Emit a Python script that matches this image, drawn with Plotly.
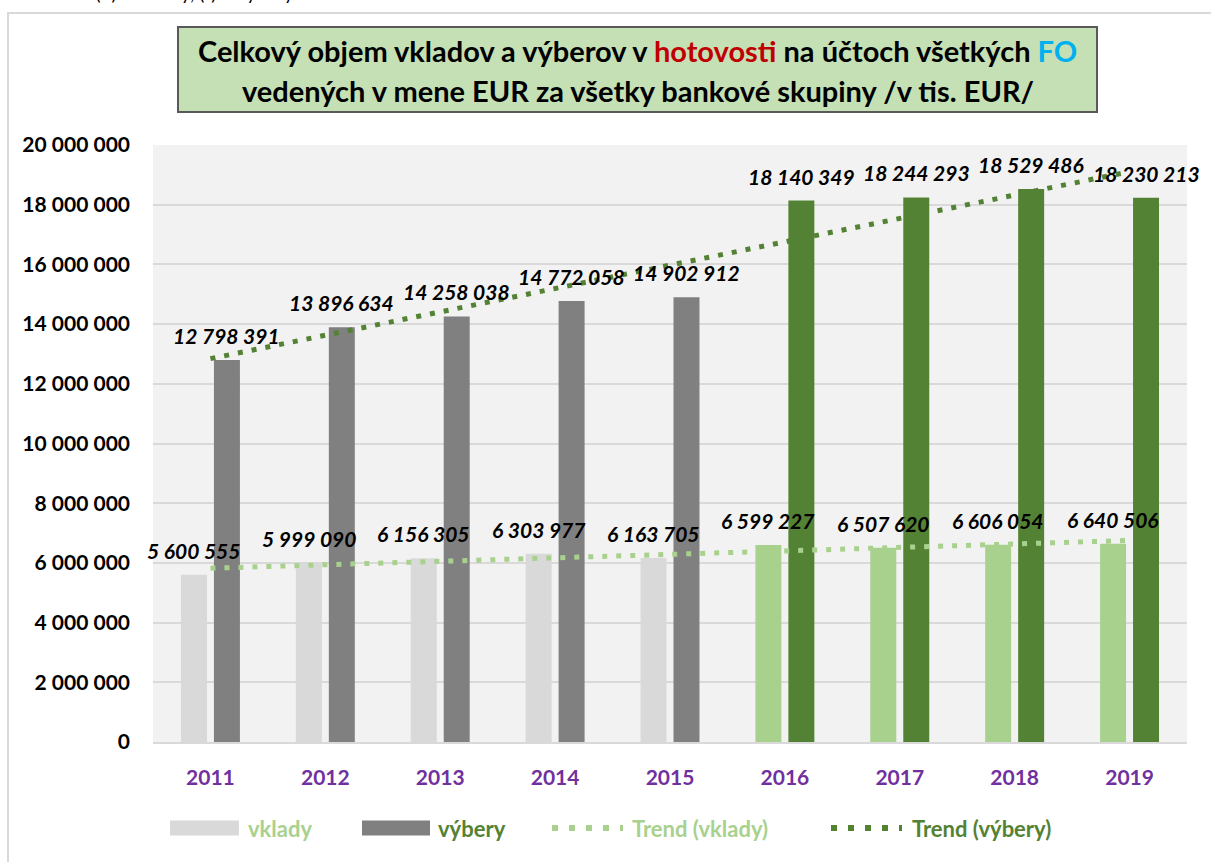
import numpy as np
import plotly.graph_objects as go

years = ["2011", "2012", "2013", "2014", "2015", "2016", "2017", "2018", "2019"]
vklady = [5600555, 5999090, 6156305, 6303977, 6163705, 6599227, 6507620, 6606054, 6640506]
vybery = [12798391, 13896634, 14258038, 14772058, 14902912, 18140349, 18244293, 18529486, 18230213]
vklady_colors = ["#d9d9d9"] * 5 + ["#a9d18e"] * 4
vybery_colors = ["#808080"] * 5 + ["#548235"] * 4
y_ticks = list(range(0, 20000001, 2000000))

FONT = "Lato"
W, H = 1211, 862
# plot area in page pixels
L, R, T, B = 153, 1187, 145, 742


def xp(px):
    return (px - L) / (R - L)


def yp(py):
    return (B - py) / (B - T)


def fmt(v):
    return f"{v:,}".replace(",", " ")


# linear trend lines (as Excel's linear trendline)
xi = np.arange(len(years))
tv = np.polyval(np.polyfit(xi, vklady, 1), xi)
tw = np.polyval(np.polyfit(xi, vybery, 1), xi)

fig = go.Figure()
fig.add_trace(go.Bar(x=years, y=vklady, name="vklady", marker=dict(color=vklady_colors, line=dict(width=0)),
                     offsetgroup="a"))
fig.add_trace(go.Bar(x=years, y=vybery, name="výbery", marker=dict(color=vybery_colors, line=dict(width=0)),
                     offsetgroup="b"))
fig.add_trace(go.Scatter(x=[years[0], years[-1]], y=[tv[0], tv[-1]], mode="lines", name="Trend (vklady)",
                         line=dict(color="#a9d18e", width=5, dash="5px,9px")))
fig.add_trace(go.Scatter(x=[years[0], years[-1]], y=[tw[0], tw[-1]], mode="lines", name="Trend (výbery)",
                         line=dict(color="#548235", width=5, dash="5px,9px")))

annotations = []
label_font = dict(family=FONT, size=21, color="black")
for i, v in enumerate(vklady):
    annotations.append(dict(x=i, y=v, xref="x", yref="y", text=f"<b><i>{fmt(v)}</i></b>", showarrow=False,
                            xshift=-16.5, yshift=10, yanchor="bottom", font=label_font))
for i, v in enumerate(vybery):
    annotations.append(dict(x=i, y=v, xref="x", yref="y", text=f"<b><i>{fmt(v)}</i></b>", showarrow=False,
                            xshift=16.5, yshift=10, yanchor="bottom", font=label_font))

# title
title_font = dict(family=FONT, size=29, color="black")
annotations.append(dict(xref="paper", yref="paper", x=xp(637.5), y=yp(50), xanchor="center", yanchor="middle",
                        showarrow=False, font=title_font,
                        text="<b>Celkový objem vkladov a výberov v <span style='color:#c00000'>hotovosti</span> "
                             "na účtoch všetkých <span style='color:#00b0f0'>FO</span></b>"))
annotations.append(dict(xref="paper", yref="paper", x=xp(637.5), y=yp(90), xanchor="center", yanchor="middle",
                        showarrow=False, font=title_font,
                        text="<b>vedených v mene EUR za všetky bankové skupiny /v tis. EUR/</b>"))
# note at top (clipped by the page edge, as in the source)
annotations.append(dict(xref="paper", yref="paper", x=xp(-1), y=yp(-7), xanchor="left", yanchor="middle",
                        showarrow=False, font=dict(family=FONT, size=19, color="black"),
                        text="Poznámka: (+) = vklady, (-) = výbery"))

# custom legend
leg_font = dict(family=FONT, size=22)
legend_items = [
    ("box", "#d9d9d9", 170, 239, "vklady", "#a9d18e", 246),
    ("box", "#808080", 362, 430, "výbery", "#548235", 436),
    ("dots", "#a9d18e", 552, 623, "Trend (vklady)", "#a9d18e", 630),
    ("dots", "#548235", 831, 902, "Trend (výbery)", "#548235", 910),
]
shapes = []
ly = 828
for kind, col, x0, x1, txt, tcol, tx in legend_items:
    if kind == "box":
        shapes.append(dict(type="rect", xref="paper", yref="paper", x0=xp(x0), x1=xp(x1), y0=yp(ly + 7.5),
                           y1=yp(ly - 7.5), fillcolor=col, line=dict(width=0)))
    else:
        shapes.append(dict(type="line", xref="paper", yref="paper", x0=xp(x0), x1=xp(x1), y0=yp(ly), y1=yp(ly),
                           line=dict(color=col, width=6, dash="6px,11px")))
    annotations.append(dict(xref="paper", yref="paper", x=xp(tx), y=yp(ly), xanchor="left", yanchor="middle",
                            showarrow=False, text=f"<b>{txt}</b>", font=dict(leg_font, color=tcol)))

# outer frame
shapes.append(dict(type="rect", xref="paper", yref="paper", x0=xp(8), x1=xp(1240), y0=yp(890), y1=yp(13),
                   line=dict(color="#d9d9d9", width=2), fillcolor="rgba(0,0,0,0)", layer="below"))
# title box
shapes.append(dict(type="rect", xref="paper", yref="paper", x0=xp(178), x1=xp(1097), y0=yp(112), y1=yp(27),
                   line=dict(color="#595959", width=2), fillcolor="#c5e0b4", layer="below"))

fig.update_layout(
    width=W, height=H,
    margin=dict(l=L, r=W - R, t=T, b=H - B),
    paper_bgcolor="white", plot_bgcolor="#f2f2f2",
    barmode="group", bargap=0.426, bargroupgap=0.212,
    separators=", ",
    showlegend=False,
    annotations=annotations, shapes=shapes,
    font=dict(family=FONT),
)
fig.update_xaxes(type="category", range=[-0.5, len(years) - 0.5], autorange=False, showgrid=False,
                 showline=True, linecolor="#d9d9d9", linewidth=2,
                 ticks="", ticklabelstandoff=16,
                 tickfont=dict(family=FONT, size=21, color="#7030a0", weight="bold"))
fig.update_yaxes(range=[0, 20000000], autorange=False, tickvals=y_ticks, tickformat=",d", showgrid=True,
                 gridcolor="#d9d9d9", gridwidth=2, zeroline=False, showline=False, ticks="",
                 ticklabelstandoff=22,
                 tickfont=dict(family=FONT, size=21, color="black", weight="bold"))

fig.write_html("out.html", config={"displayModeBar": False},
               post_script="document.body.style.margin='0';document.body.style.overflow='hidden';")
